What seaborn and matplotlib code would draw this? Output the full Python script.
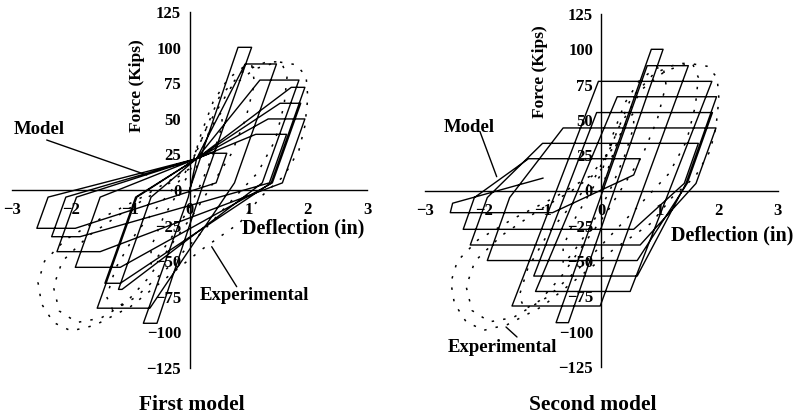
import matplotlib
matplotlib.use("Agg")
import matplotlib.pyplot as plt
import seaborn as sns
from matplotlib.lines import Line2D

# ---------------- data ----------------
x_ticks = [-3, -2, -1, 0, 1, 2, 3]
y_ticks = [-125, -100, -75, -50, -25, 0, 25, 50, 75, 100, 125]
panel_titles = ["First model", "Second model"]

# First model: analytical hysteresis path (deflection in, force kips)
m1_x = [0, 0.82, 1.05, 0.24, -0.55, -0.78, -0.02, 0.12,
        0.94, 1.47, 0.76, -0.67, -1.56, -0.89, 0.12,
        1.19, 1.85, 1.23, -1.14, -1.20, -0.65, 0.12,
        1.72, 1.95, 1.38, -1.17, -1.43, -0.91, 0.12,
        1.53, 1.88, 1.40, -1.17, -1.93, -1.51, 0.12,
        1.33, 1.95, 1.57, -1.51, -2.24, -1.91, 0.12,
        1.12, 1.64, 1.35, -1.85, -2.33, -2.09, 0.12,
        0.35, 0.63, 0.45, -1.93, -2.58, -2.39, 0.12]
m1_y = [0, 100.2, 100.2, 5, -93.6, -93.6, -5, 22,
        88.5, 88.5, 5, -83.0, -83.0, -5, 22,
        77.2, 77.2, 5, -69.8, -69.8, -5, 22,
        72.1, 72.1, 5, -65.5, -65.5, -5, 22,
        60.9, 60.9, 5, -54.3, -54.3, -5, 22,
        49.9, 49.9, 5, -43.3, -43.3, -5, 22,
        39.1, 39.1, 5, -32.8, -32.8, -5, 22,
        25.8, 25.8, 5, -26.9, -26.9, -5, 22]

# Second model: analytical hysteresis path
m2_x = [0, 0.85, 1.05, -0.56, -0.77,
        0.78, 1.48, -0.02, -1.52,
        -0.05, 1.88, 0.49, -1.12,
        0.27, 1.96, 1.44, 0.61, -1.15,
        -0.08, 1.89, 1.46, 0.61, -1.94, -1.56,
        -0.65, 1.95, 1.61, 0.66, -2.23, -1.94,
        -1.00, 1.65, 1.41, 0.55, -2.35, -2.16,
        -1.24, 0.66, 0.55, -0.83, -2.57, -2.53, -0.99]
m2_y = [0, 100, 100, -93.6, -93.6,
        88.4, 88.4, -81.8, -81.8,
        77.3, 77.3, -71.5, -71.5,
        66.4, 66.4, 5, -60.6, -60.6,
        55.2, 55.2, 5, -49.6, -49.6, -5,
        44.3, 44.3, 5, -38.6, -38.6, -5,
        33.4, 33.4, 5, -27.5, -27.5, -5,
        22.5, 22.5, 11, -15.7, -15.7, -9, 8.8]

# Experimental hysteresis (same test data in both panels)
exp_x = [0, 0.15, 0.30, 0.45, 0.55, 0.55, 0.40, 0.20, 0.0, -0.25, -0.50, -0.65, -0.65, -0.45, -0.20, 0.0,
         0.20, 0.40, 0.65, 0.90, 1.05, 1.10, 0.95, 0.70, 0.40, 0.10, -0.30, -0.70, -1.05, -1.30, -1.40, -1.25, -0.90, -0.50, -0.10,
         0.20, 0.50, 0.90, 1.30, 1.55, 1.65, 1.60, 1.45, 1.15, 0.70, 0.20, -0.30, -0.90, -1.50, -1.90, -2.20, -2.30, -2.15, -1.70, -1.10, -0.50, 0.0,
         0.30, 0.70, 1.10, 1.50, 1.80, 1.97, 2.00, 1.95, 1.85, 1.60, 1.20, 0.85, 0.20, -0.40, -1.00, -1.60, -2.00, -2.30, -2.50, -2.56, -2.45, -2.10, -1.50, -0.80, -0.20, 0.20]
exp_y = [0, 20, 38, 50, 55, 45, 25, 5, -12, -30, -45, -52, -40, -20, -2, 12,
         40, 62, 78, 86, 88, 75, 50, 25, 5, -15, -38, -62, -78, -84, -75, -55, -30, -10, 10,
         35, 65, 83, 90, 90, 80, 60, 35, 12, -8, -30, -52, -75, -90, -93, -85, -68, -50, -32, -15, 0, 15,
         45, 72, 85, 90, 88, 80, 65, 45, 28, 10, -5, -23, -42, -62, -82, -95, -99, -93, -80, -65, -50, -35, -20, -5, 10, 30]

# ---------------- styling ----------------
sns.set_theme(style="white")
plt.rcParams["font.family"] = ["Liberation Serif", "DejaVu Serif"]
plt.rcParams["font.weight"] = "bold"
plt.rcParams["axes.edgecolor"] = "black"
plt.rcParams["xtick.color"] = "black"
plt.rcParams["ytick.color"] = "black"
plt.rcParams["text.color"] = "black"

W, H = 799, 420
fig = plt.figure(figsize=(W / 100, H / 100), dpi=100)
fig.patch.set_facecolor("white")


def fx(px):
    return px / W


def fy(py):
    return 1 - py / H


ax_pos = [
    [fx(12), fy(368), fx(367) - fx(12), fy(12) - fy(368)],
    [fx(425), fy(367), fx(777.7) - fx(425), fy(14) - fy(367)],
]
models = [(m1_x, m1_y), (m2_x, m2_y)]

axes = []
for i, pos in enumerate(ax_pos):
    ax = fig.add_axes(pos)
    ax.set_facecolor("none")
    sns.lineplot(x=exp_x, y=exp_y, sort=False, estimator=None, ax=ax,
                 color="black", lw=1.1, linestyle=(0, (1.6, 6)))
    mx, my = models[i]
    sns.lineplot(x=mx, y=my, sort=False, estimator=None, ax=ax,
                 color="black", lw=1.0)
    ax.set_xlim(-3, 3)
    ax.set_ylim(-125, 125)
    for s in ["top", "right"]:
        ax.spines[s].set_visible(False)
    ax.spines["left"].set_position(("data", 0))
    ax.spines["bottom"].set_position(("data", 0))
    for s in ["left", "bottom"]:
        ax.spines[s].set_linewidth(1.0)
        ax.spines[s].set_color("black")
    ax.set_xticks(x_ticks)
    ax.set_yticks(y_ticks)
    ax.tick_params(axis="x", direction="out", length=4, width=1, pad=5, labelsize=12)
    ax.tick_params(axis="y", direction="out", length=4, width=1, pad=2, labelsize=12)
    for lab in ax.get_xticklabels() + ax.get_yticklabels():
        lab.set_fontweight("bold")
    ax.set_xlabel("")
    ax.set_ylabel("")
    ax.grid(False)
    axes.append(ax)

# axis labels, titles and annotations (pixel positions)
txt_kw = dict(ha="center", va="center", fontweight="bold")
fig.text(fx(137), fy(86), "Force (Kips)", rotation=90, fontsize=12.5, **txt_kw)
fig.text(fx(540), fy(72), "Force (Kips)", rotation=90, fontsize=12.5, **txt_kw)
fig.text(fx(303.5), fy(228), "Deflection (in)", fontsize=14.5, **txt_kw)
fig.text(fx(732.5), fy(235), "Deflection (in)", fontsize=14.5, **txt_kw)
fig.text(fx(192), fy(405), panel_titles[0], fontsize=15.5, **txt_kw)
fig.text(fx(593), fy(405), panel_titles[1], fontsize=15.5, **txt_kw)
fig.text(fx(39.5), fy(130), "Model", fontsize=13.5, **txt_kw)
fig.text(fx(254), fy(295), "Experimental", fontsize=13.5, **txt_kw)
fig.text(fx(469), fy(128), "Model", fontsize=13.5, **txt_kw)
fig.text(fx(502.5), fy(347), "Experimental", fontsize=13.5, **txt_kw)

pointers = [((46.7, 140), (146.7, 175)), ((236.7, 286.7), (211.7, 246.7)),
            ((480, 131.7), (496.7, 176.7)), ((517, 337), (506, 327))]
for (x0, y0), (x1, y1) in pointers:
    fig.add_artist(Line2D([fx(x0), fx(x1)], [fy(y0), fy(y1)],
                          transform=fig.transFigure, color="black", lw=1.0))

fig.savefig("out.png", dpi=100, facecolor="white")
